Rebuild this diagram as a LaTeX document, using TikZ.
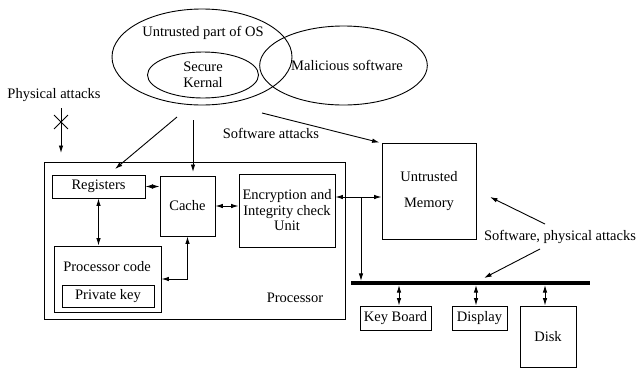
\documentclass[tikz,border=0pt]{standalone}
\usepackage{fontspec}
\setmainfont{Liberation Serif}
\usetikzlibrary{shapes.geometric,shapes.misc,arrows.meta}

\begin{document}
\begin{tikzpicture}[x=1pt,y=-1pt,>={Latex[length=7.5,width=4.5]},line width=0.9pt,font=\fontsize{14.5}{15.5}\selectfont]
                \tikzstyle{box}=[rectangle,draw=black,inner sep=0pt,align=center]
                \tikzstyle{blob}=[ellipse,draw=black,inner sep=0pt,align=center]
                \tikzstyle{lbl}=[inner sep=0pt,align=center]
                \useasboundingbox (0,0) rectangle (639,370);

                % software side
                \node[blob,minimum width=180,minimum height=96] (os) at (202,57) {};
                \node[lbl] (ostxt) at (203,33) {Untrusted part of OS};
                \node[blob,minimum width=111,minimum height=46] (sk) at (203,75) {Secure\\Kernal};
                \node[blob,minimum width=149,minimum height=79] (mal) at (343.5,65.5) {\hspace*{7pt}Malicious software};

                % processor
                \node[box,minimum width=301,minimum height=157] (proc) at (194.5,240.5) {};
                \node[lbl] (proctxt) at (295,298) {Processor};
                \node[box,minimum width=93,minimum height=23] (reg) at (98.5,186.5) {Registers};
                \node[box,minimum width=55,minimum height=60] (cache) at (187.5,206) {Cache};
                \node[box,minimum width=96,minimum height=73] (enc) at (287,210.5) {Encryption and\\Integrity check\\Unit};
                \node[box,minimum width=107,minimum height=66] (pc) at (107.5,279) {};
                \node[lbl] (pctxt) at (107,267) {Processor code};
                \node[box,minimum width=92,minimum height=22] (key) at (108,296) {Private key};

                % memory and devices
                \node[box,minimum width=94,minimum height=96] (mem) at (429,191) {Untrusted\\[10pt]Memory};
                \node[fill=black,inner sep=0pt,minimum width=239,minimum height=3.2] (bus) at (470.5,283) {};
                \foreach \name/\txt/\x/\y/\w/\h in {kb/Key Board/395.5/318/71/24, dsp/Display/479.5/318/55/24, dsk/Disk/548/336.5/56/61}
                        \node[box,minimum width=\w,minimum height=\h] (\name) at (\x,\y) {\txt};

                % attack labels
                \node[lbl] (phys) at (54,95) {Physical attacks};
                \node[lbl] (swa) at (271,133) {Software attacks};
                \node[lbl] (spa) at (560,237) {Software, physical attacks};
                \node[cross out,draw=black,minimum size=13,inner sep=0pt] (cross) at (61,122) {};

                \coordinate (pa) at (61,108);
                \coordinate (pb) at (61,153);
                \coordinate (osA) at (177,117);
                \coordinate (osB) at (193,120);
                \coordinate (osC) at (262,113);
                \coordinate (regT) at (115,169);
                \coordinate (cacT) at (193,172);
                \coordinate (memR) at (490,197);
                \coordinate (busR) at (484,278);
                \coordinate (spaA) at (545,224);
                \coordinate (spaB) at (540,249);
                \coordinate (tap) at (361,197);

                \draw[->] (pa) -- (pb);
                \draw[->] (osA) -- (regT);
                \draw[->] (osB) -- (cacT);
                \draw[->] (osC) -- ([xshift=-2]mem.north west);
                \draw[->] (spaA) -- (memR);
                \draw[->] (spaB) -- (busR);

                \draw[<->] (reg.east) -- (cache.west |- reg.east);
                \draw[<->] (cache.east) -- (enc.west |- cache.east);
                \draw[<->] (reg.south) -- (pc.north -| reg.south);
                \draw[<->] (pc.east) -| (cache.south);

                \draw[<-] (enc.east |- tap) -- (tap);
                \draw[->] (tap) -- (mem.west |- tap);
                \draw[->] (tap) -- (tap |- bus.north);

                \foreach \dev/\x in {kb/399, dsp/476, dsk/545}
                        \draw[<->] (bus.south -| \x,0) -- (\dev.north -| \x,0);

            \end{tikzpicture}
\end{document}
